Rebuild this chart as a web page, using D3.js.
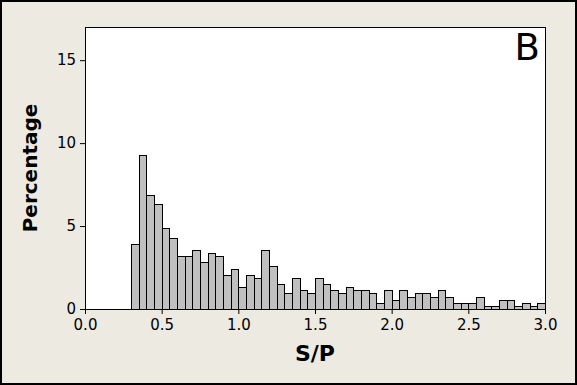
<!DOCTYPE html>
<html>
<head>
<meta charset="utf-8">
<script src="https://cdn.jsdelivr.net/npm/d3@7"></script>
<style>
  html, body { margin: 0; padding: 0; background: #edeae1; }
  svg { display: block; }
  .axis text { font-family: "DejaVu Sans", sans-serif; font-size: 15px; fill: #000; }
  .axis path, .axis line { stroke: #000; }
</style>
</head>
<body>
<div id="chart"></div>
<script>
// histogram bins (left edge, width 0.05)
const BIN_STARTS = [
  0.30, 0.35, 0.40, 0.45, 0.50, 0.55, 0.60, 0.65, 0.70, 0.75,
  0.80, 0.85, 0.90, 0.95, 1.00, 1.05, 1.10, 1.15, 1.20, 1.25,
  1.30, 1.35, 1.40, 1.45, 1.50, 1.55, 1.60, 1.65, 1.70, 1.75,
  1.80, 1.85, 1.90, 1.95, 2.00, 2.05, 2.10, 2.15, 2.20, 2.25,
  2.30, 2.35, 2.40, 2.45, 2.50, 2.55, 2.60, 2.65, 2.70, 2.75,
  2.80, 2.85, 2.90, 2.95,
];
const BIN_WIDTH = 0.05;

const PERCENT = [
  3.9, 9.3, 6.9, 6.3, 4.9, 4.3, 3.2, 3.2, 3.55, 2.85,
  3.4, 3.2, 2.05, 2.4, 1.35, 2.05, 1.85, 3.55, 2.6, 1.5,
  0.95, 1.85, 1.15, 0.95, 1.85, 1.5, 1.15, 0.95, 1.35, 1.15,
  1.15, 0.95, 0.35, 1.15, 0.55, 1.15, 0.7, 0.95, 0.95, 0.7,
  1.15, 0.7, 0.35, 0.35, 0.35, 0.7, 0.2, 0.2, 0.55, 0.55,
  0.2, 0.35, 0.2, 0.35,
];

const X_TICKS = [0.0, 0.5, 1.0, 1.5, 2.0, 2.5, 3.0];
const Y_TICKS = [0, 5, 10, 15];

const renderChart = () => {
  const W = 577;
  const H = 385;
  const margin = [27, 32, 76, 85]; // top, right, bottom, left
  const [mTop, mRight, mBottom, mLeft] = margin;
  const width = W - mLeft - mRight;
  const height = H - mTop - mBottom;

  const data = BIN_STARTS.map((s, i) => ({ x0: s, x1: s + BIN_WIDTH, value: PERCENT[i] }));

  const x = d3.scaleLinear().domain([0, 3]).range([0, width]);
  const y = d3.scaleLinear().domain([0, 17]).range([height, 0]);

  const svg = d3
    .select("#chart")
    .append("svg")
    .attr("width", W)
    .attr("height", H);

  svg.append("rect")
    .attr("x", 0).attr("y", 0)
    .attr("width", W).attr("height", H)
    .attr("fill", "#edeae1");

  // outer frame
  svg.append("rect")
    .attr("x", 1).attr("y", 1)
    .attr("width", W - 2).attr("height", H - 2)
    .attr("fill", "none")
    .attr("stroke", "#000")
    .attr("stroke-width", 2);

  const g = svg.append("g").attr("transform", `translate(${mLeft},${mTop})`);

  g.append("rect")
    .attr("x", 0).attr("y", 0)
    .attr("width", width).attr("height", height)
    .attr("fill", "#fff");

  g.selectAll("rect.bar")
    .data(data)
    .join("rect")
    .attr("class", "bar")
    .attr("x", (d) => Math.round(x(d.x0)) + 0.5)
    .attr("y", (d) => Math.round(y(d.value)) + 0.5)
    .attr("width", (d) => Math.round(x(d.x1)) - Math.round(x(d.x0)))
    .attr("height", (d) => Math.round(y(0)) - Math.round(y(d.value)))
    .attr("fill", "#c0c0c0")
    .attr("stroke", "#000")
    .attr("stroke-width", 1);

  // plot border
  g.append("rect")
    .attr("x", 0.5).attr("y", 0.5)
    .attr("width", width).attr("height", height)
    .attr("fill", "none")
    .attr("stroke", "#000");

  g.append("g")
    .attr("class", "axis axis--x")
    .attr("transform", `translate(0,${height})`)
    .call(d3.axisBottom(x).tickValues(X_TICKS).tickFormat(d3.format(".1f")).tickSizeInner(5).tickSizeOuter(0).tickPadding(5));

  g.append("g")
    .attr("class", "axis axis--y")
    .call(d3.axisLeft(y).tickValues(Y_TICKS).tickSizeInner(5).tickSizeOuter(0).tickPadding(4));

  // axis titles
  g.append("text")
    .attr("x", width / 2)
    .attr("y", height + 52)
    .attr("text-anchor", "middle")
    .style("font-family", "DejaVu Sans, sans-serif")
    .style("font-weight", "bold")
    .style("font-size", "22px")
    .text("S/P");

  g.append("text")
    .attr("transform", `translate(${37 - mLeft},${height / 2}) rotate(-90)`)
    .attr("text-anchor", "middle")
    .style("font-family", "DejaVu Sans, sans-serif")
    .style("font-weight", "bold")
    .style("font-size", "20px")
    .text("Percentage");

  // panel letter
  g.append("text")
    .attr("x", width - 5)
    .attr("y", 60 - mTop)
    .attr("text-anchor", "end")
    .style("font-family", "DejaVu Sans, sans-serif")
    .style("font-size", "37px")
    .text("B");
};

renderChart();
</script>
</body>
</html>
